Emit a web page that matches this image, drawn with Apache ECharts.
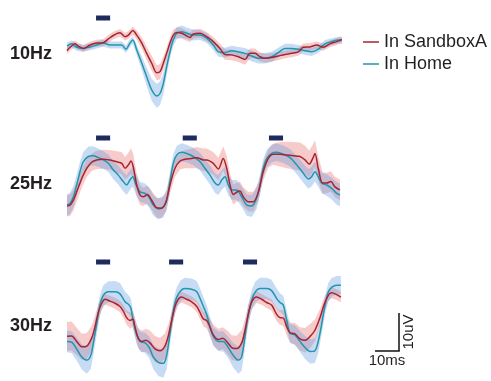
<!DOCTYPE html>
<html>
<head>
<meta charset="utf-8">
<script src="https://cdn.jsdelivr.net/npm/echarts@6/dist/echarts.min.js"></script>
<style>html,body{margin:0;padding:0;background:#fff;}#c{width:491px;height:381px;}</style>
</head>
<body>
<div id="c"></div>
<script>
// ---- 10 Hz (time in ms, amplitude in uV, band = half-width in uV) ----
const T10_RED = [0,1.4,3.6,5.1,7.4,10.5,13.5,16.5,18.8,21,24.1,26.4,27.9,29.9,31.7,34,36.2,38.5,40.8,42.3,43.8,45.3,46.8,48.3,49.9,52.1,54.4,55.9,57.4,60.5,63.5,66.5,69.5,71.8,74.9,77.9,80.9,83.2,85.5,87.7,90,93,96,99.1,102.1,105.1,107.4,110.5,113.5,116.5,119.5,122.6,124.9];
const V10_RED = [-1.5,-0.6,0.3,-0.3,-0.9,0,0.5,0.6,1.6,2.5,3.2,2.2,2.6,3.8,2.6,0.5,-2.2,-4.8,-7.3,-7.0,-4.8,-2.2,0.5,2.6,3.3,3.1,2.4,2.0,2.9,3.1,2.2,0.9,-0.9,-2.5,-2.6,-3.1,-3.8,-2.2,-2.2,-3.1,-3.5,-3.3,-2.9,-2.5,-2.2,-1.8,-0.6,-0.5,0,-0.6,0.3,0.9,1.5];
const B10_RED = [0.9,0.9,0.9,0.9,0.9,0.9,0.9,0.9,1.0,1.0,1.0,1.0,1.0,1.1,1.2,1.5,1.8,2.0,2.0,2.0,1.8,1.6,1.5,1.4,1.4,1.4,1.3,1.3,1.2,1.2,1.2,1.2,1.3,1.4,1.4,1.4,1.4,1.3,1.3,1.2,1.2,1.1,1.1,1.0,1.0,1.0,1.0,1.0,0.9,0.9,0.9,0.9,0.9];
const T10_BLUE = [0,2.1,4.4,7.4,10.5,13.5,16.5,19.5,22.6,24.9,26.8,28.6,29.9,31.7,34,36.2,38.5,40.8,42.3,43.8,45.3,46.8,48.3,49.9,52.1,54.4,57.4,60.5,63.5,66.5,68.8,71.8,74.9,77.9,80.9,83.9,87,90,93,96,99.1,102.1,105.1,108.2,111.2,114.2,117.3,120.3,123.3,124.9];
const V10_BLUE = [-0.3,0.3,-0.6,-0.9,-0.5,0,0.5,0,0,0,-1.1,0.5,1.3,-1.3,-4.8,-8.3,-11.8,-13.4,-12.7,-10.1,-5.7,-1.8,1.3,3.1,3.5,3.1,2.6,2.6,1.8,0,-1.8,-2.0,-1.5,-1.8,-2.2,-2.9,-3.5,-3.5,-3.1,-2.0,-0.9,-0.9,-1.1,-1.5,-1.8,-1.1,0.3,0.9,1.3,1.1];
const B10_BLUE = [0.9,0.9,0.9,0.9,0.9,0.9,0.9,0.9,0.9,0.9,1.0,1.0,1.0,1.3,1.8,2.4,2.9,3.2,3.1,2.8,2.3,1.8,1.6,1.6,1.6,1.5,1.4,1.3,1.3,1.3,1.3,1.3,1.3,1.3,1.4,1.4,1.4,1.4,1.3,1.3,1.2,1.2,1.1,1.1,1.1,1.0,1.0,0.9,0.9,0.9];

// ---- 25 Hz ----
const T25_RED = [0,1.4,2.9,4.4,5.9,7.4,9.0,11.2,13.5,16.5,19.5,22.6,24.9,26.4,27.9,29.1,30.1,31.7,33.2,34.7,36.5,38.5,40.8,43.0,45.0,46.8,49.1,51.4,53.6,56.7,59.0,62.0,63.5,66.5,68.8,71.0,72.6,74.1,75.6,77.1,78.6,80.1,82.4,84.7,87.0,89.2,91.5,93.8,96.8,99.9,102.9,105.9,108.2,110.1,111.7,112.7,114.2,116.2,118.0,119.9,121.8,124.1];
const V25_RED = [-5.5,-5.3,-4.0,-1.8,0.5,2.6,4.4,6.0,6.6,6.8,6.6,6.1,5.7,4.4,5.3,6.3,4.8,0,-2.6,-3.1,-2.5,-4.0,-6.0,-6.1,-4.4,0,4.4,6.3,6.8,7.0,7.2,6.6,6.6,5.7,4.2,7.0,4.4,0,-2.5,-1.9,-1.6,-3.1,-4.4,-4.4,-1.8,3.5,7.0,8.1,8.1,7.9,7.7,7.5,6.6,5.5,7.0,8.3,4.4,0.5,0.5,0.9,-0.5,-1.3];
const B25_RED = [2.8,2.8,2.7,2.6,2.5,2.4,2.3,2.3,2.4,2.5,2.6,2.8,3.0,3.0,3.2,3.4,3.4,3.0,2.6,2.4,2.4,2.5,2.6,2.6,2.5,2.3,2.2,2.2,2.4,2.6,2.8,3.0,3.0,3.0,3.0,3.2,3.2,3.0,2.6,2.5,2.5,2.5,2.6,2.6,2.4,2.3,2.4,2.8,3.2,3.5,3.6,3.7,3.7,3.6,3.6,3.5,3.2,2.8,2.7,2.7,2.7,2.7];
const T25_BLUE = [0,1.4,2.9,4.4,5.9,7.4,9.7,12.0,14.2,16.5,18.8,21.0,23.3,25.6,27.1,28.6,29.9,31.4,33.2,35.5,37.4,39.2,41.5,43.8,45.3,46.8,48.3,49.9,52.1,54.4,57.4,60.5,62.7,65.0,67.3,68.8,70.3,71.8,73.3,74.9,77.1,79.4,81.7,84.0,86.2,87.7,89.2,90.8,93.0,95.3,98.3,101.4,104.4,107.4,109.7,111.2,112.7,114.2,115.8,118.0,120.3,122.6,124.1];
const V25_BLUE = [-5.3,-4.8,-3.1,0,3.5,6.1,7.5,7.7,7.2,6.6,5.7,4.0,2.6,0.9,0,1.3,2.2,0,-1.8,-2.2,-3.3,-5.3,-6.3,-5.7,-4.0,0.9,5.7,7.9,8.6,8.3,7.5,6.1,4.4,2.6,0.5,0,1.3,2.2,0,-1.3,-1.3,-3.1,-5.3,-5.5,-3.5,0,4.4,7.0,8.3,8.6,8.1,7.2,5.3,3.1,1.6,2.2,3.5,2.2,0.5,0,-0.9,-2.2,-2.6];
const B25_BLUE = [2.8,2.8,2.8,2.7,2.6,2.6,2.6,2.5,2.4,2.3,2.3,2.4,2.5,2.6,2.6,2.6,2.6,2.6,2.6,2.6,2.6,2.7,2.8,2.8,2.7,2.5,2.4,2.4,2.4,2.3,2.3,2.3,2.4,2.5,2.6,2.6,2.6,2.6,2.6,2.6,2.6,2.7,2.8,2.9,2.8,2.6,2.4,2.3,2.3,2.3,2.3,2.3,2.4,2.5,2.6,2.6,2.6,2.6,2.7,2.8,2.9,3.0,3.0];

// ---- 30 Hz ----
const T30_RED = [0,2.1,4.4,6.7,9.0,11.2,12.7,14.2,15.8,17.3,19.5,21.8,24.1,25.6,27.1,28.6,29.9,30.9,32.4,34.0,35.9,37.7,40.0,42.3,44.5,46.0,47.6,49.1,50.6,52.1,54.4,56.7,59.0,60.5,62.0,63.5,65.0,66.5,68.8,70.8,72.6,74.9,77.1,79.4,80.9,82.4,84.0,86.2,88.5,90.8,93.0,95.3,96.8,98.3,99.9,101.4,103.6,105.9,108.2,110.5,112.7,115.0,116.8,118.8,120.3,122.6,124.5];
const V30_RED = [-2.6,-2.5,-4.0,-5.5,-5.3,-3.1,0,4.0,6.6,7.7,7.2,6.6,5.7,4.4,2.6,1.8,2.2,0,-3.1,-4.0,-3.7,-4.4,-6.1,-6.6,-5.3,-2.6,1.8,5.7,7.7,8.3,7.7,7.0,5.7,4.0,2.2,1.8,0,-2.2,-3.5,-3.1,-4.0,-5.7,-6.0,-4.4,-0.9,3.5,7.0,8.3,7.7,6.8,6.1,3.5,2.6,2.5,0,-1.6,-1.9,-3.3,-3.7,-2.6,-0.9,2.6,6.1,8.8,9.5,9.0,8.3];
const B30_RED = [4.0,4.0,3.8,3.6,3.6,3.4,3.0,2.4,1.8,1.5,1.5,1.5,1.6,1.8,2.0,2.2,2.2,2.4,2.8,3.0,3.2,3.4,3.6,3.6,3.5,3.2,2.6,2.0,1.6,1.5,1.5,1.5,1.6,1.8,2.0,2.2,2.4,2.8,3.0,3.0,3.2,3.4,3.6,3.6,3.2,2.6,2.0,1.6,1.5,1.5,1.6,1.8,2.0,2.2,2.4,2.8,3.0,3.2,3.4,3.4,3.0,2.4,2.0,1.6,1.5,1.5,1.5];
const T30_BLUE = [0,2.1,4.4,6.7,9.0,10.8,12.0,13.5,15.0,16.5,18.8,21.8,24.1,26.4,27.9,29.0,30.1,31.7,33.2,35.5,37.4,39.2,41.5,43.8,45.3,46.8,48.3,49.9,51.7,53.6,56.7,59.0,60.5,62.0,63.5,65.0,66.5,68.8,71.0,73.3,75.6,77.9,79.4,80.9,82.4,84.0,85.5,87.7,90.8,93.0,95.3,96.8,98.3,99.9,101.4,103.6,105.9,108.2,110.5,112.7,114.2,115.8,117.3,118.8,120.3,122.6,124.5];
const V30_BLUE = [-4.0,-4.2,-6.1,-8.3,-9.2,-7.9,-4.4,0.9,6.1,8.8,9.8,9.8,9.2,7.0,6.3,5.3,1.8,-2.2,-4.0,-4.4,-5.7,-8.3,-9.8,-10.1,-7.9,-1.8,4.4,8.3,10.1,10.7,10.5,9.8,7.9,5.7,3.5,0,-2.6,-4.0,-4.0,-5.7,-7.9,-9.2,-8.3,-2.6,3.5,7.5,9.7,10.7,10.7,10.1,7.9,6.8,6.1,1.8,-1.8,-2.2,-4.0,-5.7,-6.8,-6.6,-4.0,0.9,6.1,9.7,11.0,11.6,11.6];
const B30_BLUE = [3.0,3.0,3.2,3.5,3.8,3.8,3.4,3.0,2.8,2.8,2.9,3.0,3.0,2.8,2.6,2.6,2.6,2.6,2.7,2.8,3.0,3.4,3.8,4.0,3.8,3.2,2.8,2.8,2.9,3.0,3.0,3.0,2.8,2.6,2.6,2.6,2.6,2.7,2.8,3.0,3.4,3.8,3.8,3.2,2.8,2.8,2.9,3.0,3.0,3.0,2.8,2.6,2.6,2.6,2.6,2.7,2.9,3.2,3.4,3.4,3.2,2.8,2.6,2.6,2.6,2.6,2.6];

// stimulus onsets (ms) and duration
const STIM_10HZ = [13.2];
const STIM_25HZ = [13.2, 52.6, 91.8];
const STIM_30HZ = [13.2, 46.4, 80.0];
const STIM_DUR = 6.4;

const PANEL_LABELS = ['10Hz', '25Hz', '30Hz'];
const SERIES_NAMES = ['In SandboxA', 'In Home'];
const SCALE_LABELS = ['10ms', '10uV'];

const RED = '#A8232F', BLUE = '#1F97AC';
const RED_BAND = 'rgba(232,92,92,0.32)', BLUE_BAND = 'rgba(92,152,222,0.34)';
const NAVY = '#1E2B5C';
const TXT = '#231F20';
const FONT = '"Liberation Sans", Arial, Helvetica, sans-serif';

const chart = echarts.init(document.getElementById('c'), null, {renderer: 'canvas'});

const grids = [
  {left: 67, width: 275, top: 26, height: 95},
  {left: 67, width: 275, top: 147, height: 95},
  {left: 67, width: 275, top: 273, height: 114}
];
const yRanges = [[-20, 5], [-15, 10], [-15, 15]];

function bandSeries(g, t, v, sd, color) {
  return {
    type: 'custom', xAxisIndex: g, yAxisIndex: g, silent: true, z: 1, clip: false,
    data: [[t[0], v[0]]],
    renderItem: function (params, api) {
      const pts = [];
      for (let i = 0; i < t.length; i++) pts.push(api.coord([t[i], v[i] + sd[i]]));
      for (let i = t.length - 1; i >= 0; i--) pts.push(api.coord([t[i], v[i] - sd[i]]));
      return {type: 'polygon', shape: {points: pts}, style: {fill: color}};
    }
  };
}
function lineSeries(g, name, t, v, color, z) {
  return {
    type: 'line', name: name, xAxisIndex: g, yAxisIndex: g, z: z, clip: false,
    data: t.map((x, i) => [x, v[i]]), showSymbol: false, smooth: 0.3,
    lineStyle: {width: 1.5, color: color}, itemStyle: {color: color}
  };
}
function stimSeries(g, onsets) {
  return {
    type: 'custom', xAxisIndex: g, yAxisIndex: g, silent: true, z: 5, clip: false,
    data: onsets.map(o => [o, 0]),
    renderItem: function (params, api) {
      const ymax = yRanges[g][1];
      const s = api.coord([api.value(0), ymax]);
      const e = api.coord([api.value(0) + STIM_DUR, ymax]);
      const off = g === 0 ? 8 : (g === 1 ? 9 : 11);
      return {type: 'rect', shape: {x: s[0], y: s[1] - off - 2.5, width: e[0] - s[0], height: 5}, style: {fill: NAVY}};
    }
  };
}

const panels = [
  [T10_RED, V10_RED, B10_RED, T10_BLUE, V10_BLUE, B10_BLUE, STIM_10HZ],
  [T25_RED, V25_RED, B25_RED, T25_BLUE, V25_BLUE, B25_BLUE, STIM_25HZ],
  [T30_RED, V30_RED, B30_RED, T30_BLUE, V30_BLUE, B30_BLUE, STIM_30HZ]
];

const series = [];
panels.forEach((p, g) => {
  series.push(bandSeries(g, p[0], p[1], p[2], RED_BAND));
  series.push(bandSeries(g, p[3], p[4], p[5], BLUE_BAND));
  series.push(lineSeries(g, SERIES_NAMES[1], p[3], p[4], BLUE, 3));
  series.push(lineSeries(g, SERIES_NAMES[0], p[0], p[1], RED, 4));
  series.push(stimSeries(g, p[6]));
});

const labelY = [55, 185, 327];
const graphic = PANEL_LABELS.map((lab, i) => ({
  type: 'text', left: 10, top: labelY[i] - 10,
  style: {text: lab, font: 'bold 18px ' + FONT, fill: TXT}
}));
// scale bar
graphic.push({type: 'line', shape: {x1: 399, y1: 313, x2: 399, y2: 351}, style: {stroke: '#111', lineWidth: 1.5}});
graphic.push({type: 'line', shape: {x1: 375, y1: 351, x2: 399.75, y2: 351}, style: {stroke: '#111', lineWidth: 1.5}});
graphic.push({type: 'text', x: 387, y: 361, style: {text: SCALE_LABELS[0], font: '15px ' + FONT, fill: TXT, align: 'center', verticalAlign: 'middle'}});
graphic.push({type: 'text', x: 409, y: 332, rotation: Math.PI / 2, style: {text: SCALE_LABELS[1], font: '15px ' + FONT, fill: TXT, align: 'center', verticalAlign: 'middle'}});

chart.setOption({
  animation: false,
  backgroundColor: '#fff',
  grid: grids,
  xAxis: grids.map((_, i) => ({type: 'value', gridIndex: i, min: 0, max: 125, show: false})),
  yAxis: grids.map((_, i) => ({type: 'value', gridIndex: i, min: yRanges[i][0], max: yRanges[i][1], show: false})),
  legend: {
    data: SERIES_NAMES, orient: 'vertical', left: 363, top: 33, itemGap: 4, padding: 0,
    icon: 'rect', itemWidth: 16, itemHeight: 1.5, selectedMode: false,
    textStyle: {fontSize: 18, color: TXT, fontFamily: FONT}
  },
  graphic: graphic,
  series: series
});
</script>
</body>
</html>
